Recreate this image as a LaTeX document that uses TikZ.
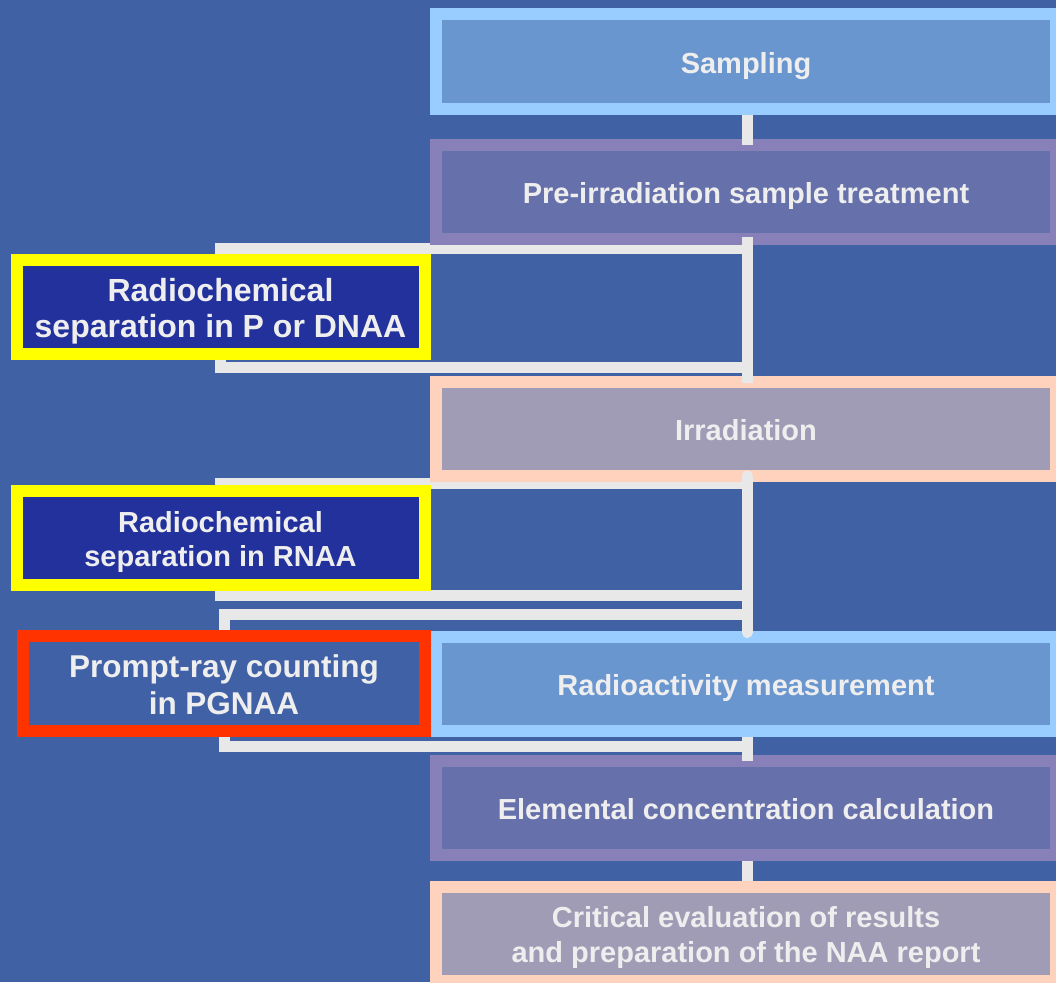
\documentclass[tikz,border=0pt]{standalone}
\usepackage{fontspec}
\setmainfont{Liberation Sans}
\usetikzlibrary{positioning, backgrounds}
\definecolor{bgblue}{RGB}{64,97,164}
\definecolor{skyedge}{RGB}{153,204,255}
\definecolor{skyfill}{RGB}{106,150,208}
\definecolor{lilacedge}{RGB}{136,128,184}
\definecolor{lilacfill}{RGB}{102,112,170}
\definecolor{peachedge}{RGB}{255,210,190}
\definecolor{peachfill}{RGB}{160,156,182}
\definecolor{sepedge}{RGB}{255,255,0}
\definecolor{sepfill}{RGB}{34,49,156}
\definecolor{pgedge}{RGB}{255,51,0}
\definecolor{pgfill}{RGB}{64,97,166}
\definecolor{linkgray}{RGB}{232,232,232}
\definecolor{txt}{RGB}{238,238,238}
\tikzset{
  procbox/.style={line width=12pt, minimum width=620pt, minimum height=94pt,
                  inner sep=0pt, text=txt, align=center, text height=23pt, text depth=0pt,
                  font=\bfseries\fontsize{29}{35}\selectfont},
  skyst/.style={procbox, draw=skyedge, fill=skyfill},
  lilacst/.style={procbox, draw=lilacedge, fill=lilacfill},
  peachst/.style={procbox, draw=peachedge, fill=peachfill},
  sidebox/.style={line width=12pt, minimum width=408pt, minimum height=94pt,
                  inner sep=0pt, text=txt, align=center, text depth=0pt},
  sepbox/.style={sidebox, draw=sepedge, fill=sepfill},
  pgbox/.style={sidebox, draw=pgedge, fill=pgfill, minimum width=402pt, minimum height=95pt},
  link/.style={draw=linkgray, line width=11pt}
}
\begin{document}
\begin{tikzpicture}[x=1pt, y=-1pt]
  \useasboundingbox (0,0) rectangle (1056,982);
  % main chain
  \node[skyst] (samp) at (746,61.5) {Sampling};
  \node[lilacst] (pre) at (746,192) {Pre-irradiation sample treatment};
  \node[peachst] (irr) at (746,429) {Irradiation};
  \node[skyst] (meas) at (746,683.5) {Radioactivity measurement};
  \node[lilacst] (calc) at (746,808) {Elemental concentration calculation};
  \node[peachst, text height=56pt] (rep) at (746,934) {Critical evaluation of results\\and preparation of the NAA report};
  % side steps
  \node[sepbox, text height=61pt, font=\bfseries\fontsize{32}{36}\selectfont] (dnaa) at (220.5,307) {Radiochemical\\separation in P or DNAA};
  \node[sepbox, text height=57pt, font=\bfseries\fontsize{29}{34}\selectfont] (rnaa) at (220.5,538) {Radiochemical\\separation in RNAA};
  \node[pgbox, text height=61.5pt, font=\bfseries\fontsize{31.5}{37}\selectfont] (pgnaa) at (224,683.5) {Prompt-ray counting\\in PGNAA};
  % junctions on the spine
  \coordinate (d1) at (747,248.5);
  \coordinate (d2) at (747,367);
  \coordinate (r1) at (747,483.5);
  \coordinate (r2) at (747,595);
  \coordinate (g1) at (747,614);
  \coordinate (g2) at (747,746);
  % spine
  \draw[link] (samp.south -| d1) -- ([yshift=-6pt]pre.north -| d1);
  \draw[link] ([yshift=8pt]pre.south -| d1) -- ([yshift=-7pt]irr.north -| d1);
  \draw[link, line cap=round] ([yshift=6pt]irr.south -| d1) -- ([yshift=-2pt]meas.north -| d1);
  \draw[link] (meas.south -| d1) -- ([yshift=-6pt]calc.north -| d1);
  \draw[link] (calc.south -| d1) -- (rep.north -| d1);
  \begin{scope}[on background layer]
    \fill[bgblue] (0,0) rectangle (1056,982);
    % loops out to the side steps
    \draw[link] (d1) -| (dnaa) |- (d2);
    \draw[link] (r1) -| (rnaa) |- (r2);
    \draw[link] (g1) -| (pgnaa) |- (g2);
  \end{scope}
\end{tikzpicture}
\end{document}
